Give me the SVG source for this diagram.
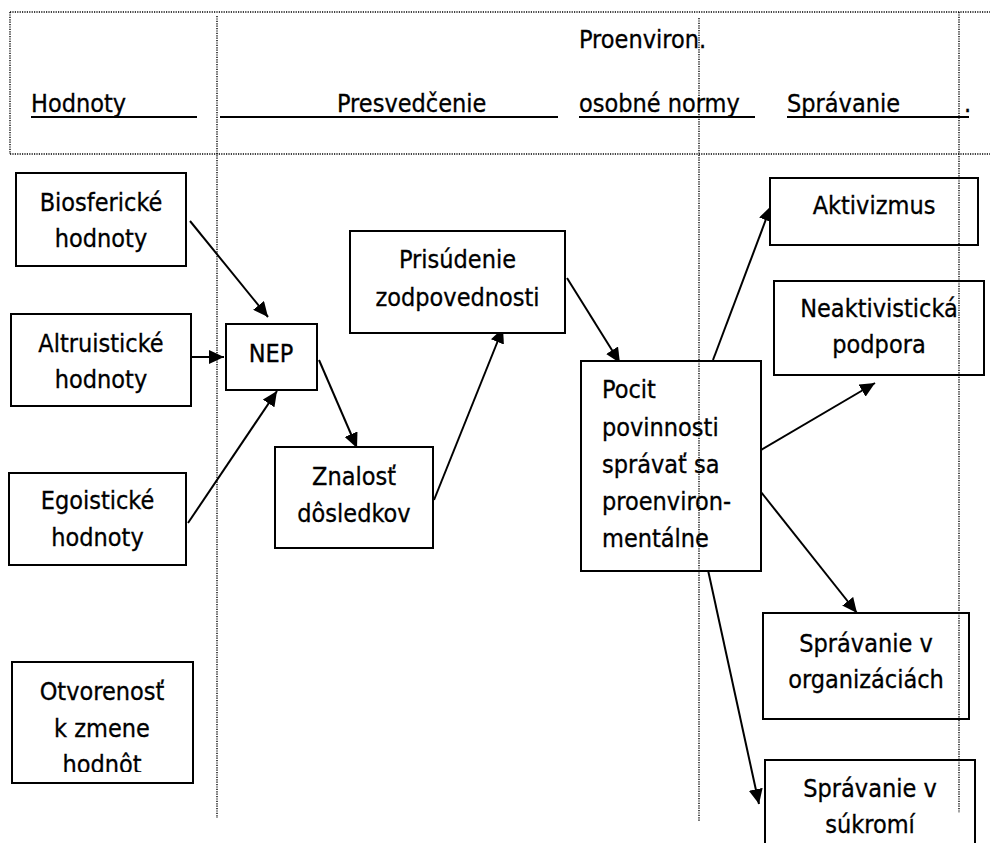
<svg xmlns="http://www.w3.org/2000/svg" width="990" height="843" viewBox="0 0 990 843">
  <defs>
    <style>
      text { font-family: "DejaVu Sans Condensed", "DejaVu Sans", sans-serif; font-stretch: condensed; font-size: 25px; fill: #000; stroke: #000; stroke-width: 0.3; }
      .c { text-anchor: middle; }
      .box { fill: #fff; stroke: #000; stroke-width: 2; }
      .grid { stroke: #000; stroke-width: 1.4; stroke-dasharray: 1.2 1.2; fill: none; }
      .ul { stroke: #000; stroke-width: 2; }
      .conn line { stroke: #000; stroke-width: 2; marker-end: url(#arrow); }
    </style>
    <marker id="arrow" markerUnits="userSpaceOnUse" markerWidth="16" markerHeight="14" refX="15" refY="7" orient="auto">
      <path d="M0,0 L15,7 L0,14 Z" fill="#000"/>
    </marker>
    <clipPath id="clipOtv">
      <rect x="12" y="662" width="181" height="110"/>
    </clipPath>
  </defs>

  <rect width="990" height="843" fill="#fff"/>

  <!-- column grid -->
  <g id="grid">
    <line class="grid" x1="10" y1="12" x2="990" y2="12"/>
    <line class="grid" x1="10" y1="154" x2="990" y2="154"/>
    <line class="grid" x1="10" y1="12" x2="10" y2="154"/>
    <line class="grid" x1="217" y1="16" x2="217" y2="818"/>
    <line class="grid" x1="699" y1="18" x2="699" y2="822"/>
    <line class="grid" x1="959" y1="12" x2="959" y2="813"/>
  </g>

  <!-- column headings -->
  <g id="headings">
    <text x="31" y="112">Hodnoty</text>
    <line class="ul" x1="31" y1="117" x2="197" y2="117"/>
    <text x="337" y="112">Presvedčenie</text>
    <line class="ul" x1="220" y1="117" x2="558" y2="117"/>
    <text x="579" y="48">Proenviron.</text>
    <text x="579" y="112">osobné normy</text>
    <line class="ul" x1="579" y1="117" x2="755" y2="117"/>
    <text x="787" y="112">Správanie</text>
    <text x="964" y="112">.</text>
    <line class="ul" x1="787" y1="117" x2="969" y2="117"/>
  </g>

  <!-- connectors -->
  <g id="connectors" class="conn">
    <line x1="190" y1="221" x2="268" y2="317"/>
    <line x1="191" y1="357" x2="224" y2="357"/>
    <line x1="188" y1="523" x2="277" y2="391"/>
    <line x1="319" y1="360" x2="357" y2="448"/>
    <line x1="434" y1="500" x2="503" y2="328"/>
    <line x1="567" y1="278" x2="620" y2="363"/>
    <line x1="713" y1="360" x2="771" y2="206"/>
    <line x1="761" y1="450" x2="875" y2="383"/>
    <line x1="761" y1="492" x2="857" y2="613"/>
    <line x1="708" y1="570" x2="759" y2="804"/>
  </g>

  <!-- nodes -->
  <g id="biosfericke">
    <rect class="box" x="16" y="173" width="170" height="93"/>
    <text class="c" x="101" y="211">Biosferické</text>
    <text class="c" x="101" y="247">hodnoty</text>
  </g>
  <g id="altruisticke">
    <rect class="box" x="11" y="314" width="180" height="92"/>
    <text class="c" x="101" y="352">Altruistické</text>
    <text class="c" x="101" y="388">hodnoty</text>
  </g>
  <g id="egoisticke">
    <rect class="box" x="9" y="473" width="177" height="92"/>
    <text class="c" x="97.5" y="509">Egoistické</text>
    <text class="c" x="97.5" y="546">hodnoty</text>
  </g>
  <g id="otvorenost">
    <rect class="box" x="12" y="662" width="181" height="121"/>
    <text class="c" x="102" y="700">Otvorenosť</text>
    <text class="c" x="102" y="737">k zmene</text>
    <text class="c" x="102" y="773" clip-path="url(#clipOtv)">hodnôt</text>
  </g>
  <g id="nep">
    <rect class="box" x="226" y="324" width="91" height="66"/>
    <text class="c" x="271" y="362">NEP</text>
  </g>
  <g id="znalost">
    <rect class="box" x="275" y="447" width="158" height="101"/>
    <text class="c" x="354" y="485">Znalosť</text>
    <text class="c" x="354" y="522">dôsledkov</text>
  </g>
  <g id="prisudenie">
    <rect class="box" x="350" y="231" width="215" height="102"/>
    <text class="c" x="457.5" y="268">Prisúdenie</text>
    <text class="c" x="457.5" y="306">zodpovednosti</text>
  </g>
  <g id="pocit">
    <rect class="box" x="581" y="361" width="180" height="210"/>
    <text x="602" y="398">Pocit</text>
    <text x="602" y="436">povinnosti</text>
    <text x="602" y="473">správať sa</text>
    <text x="602" y="510">proenviron-</text>
    <text x="602" y="547">mentálne</text>
  </g>
  <g id="aktivizmus">
    <rect class="box" x="770" y="178" width="208" height="67"/>
    <text class="c" x="874" y="214">Aktivizmus</text>
  </g>
  <g id="neaktivisticka">
    <rect class="box" x="774" y="281" width="210" height="94"/>
    <text class="c" x="879" y="317">Neaktivistická</text>
    <text class="c" x="879" y="353">podpora</text>
  </g>
  <g id="organizacie">
    <rect class="box" x="763" y="613" width="206" height="106"/>
    <text class="c" x="866" y="652">Správanie v</text>
    <text class="c" x="866" y="688">organizáciách</text>
  </g>
  <g id="sukromie">
    <rect class="box" x="765" y="760" width="210" height="100"/>
    <text class="c" x="870" y="797">Správanie v</text>
    <text class="c" x="870" y="833">súkromí</text>
  </g>

  <!-- grid lines drawn over the boxes where they cross -->
  <g id="grid-over">
    <line class="grid" x1="699" y1="361" x2="699" y2="571"/>
    <line class="grid" x1="959" y1="178" x2="959" y2="245"/>
    <line class="grid" x1="959" y1="281" x2="959" y2="375"/>
    <line class="grid" x1="959" y1="613" x2="959" y2="719"/>
    <line class="grid" x1="959" y1="760" x2="959" y2="813"/>
  </g>
</svg>
